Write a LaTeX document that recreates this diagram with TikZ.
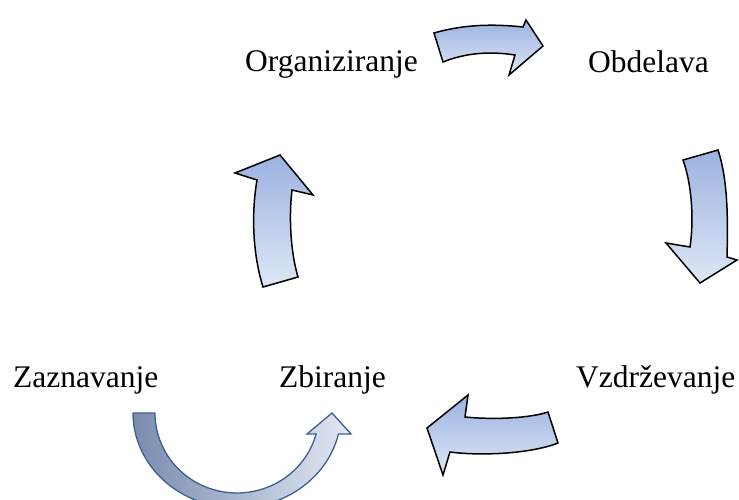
\documentclass[tikz,border=0pt]{standalone}
\usepackage{fontspec}
\setmainfont{Liberation Serif}
\definecolor{arrowtop}{HTML}{9BB2E0}
\definecolor{arrowbottom}{HTML}{DEE7F6}
\definecolor{udark}{HTML}{7A8BAE}
\definecolor{ulight}{HTML}{E2E9F6}
\definecolor{uedge}{HTML}{3F5F8E}
\begin{document}
\begin{tikzpicture}[x=1pt,y=-1pt,
  label/.style={anchor=base west,inner sep=0pt,font=\fontsize{31.5}{36}\selectfont},
  blockarrow/.style={draw=black,line width=1.5pt,line join=miter,
    top color=arrowtop,bottom color=arrowbottom},
  uarrow/.style={draw=uedge,line width=1.3pt,line join=miter,
    left color=udark,right color=ulight}]
\useasboundingbox (0,0) rectangle (739,499);

% labels of the cycle
\node[label] (org) at (245,71) {Organiziranje};
\node[label] (obd) at (588,72) {Obdelava};
\node[label] (zaz) at (13,387) {Zaznavanje};
\node[label] (zbi) at (279,387) {Zbiranje};
\node[label] (vzd) at (576,387) {Vzdrževanje};

% curved block arrow: Organiziranje -> Obdelava
\path[blockarrow] (434,33) .. controls (465,24) and (495,24) .. (523,27)
  -- (526,20) -- (543,46) -- (509,75) -- (515,55)
  .. controls (490,51) and (465,53) .. (443,62) -- cycle;

% curved block arrow: Obdelava -> Vzdrzevanje
\path[blockarrow] (683,160) -- (718,150)
  .. controls (728,180) and (728,220) .. (727,257)
  -- (737,260) -- (700,283) -- (666,243) -- (690,247)
  .. controls (694,220) and (692,185) .. (683,160) -- cycle;

% curved block arrow: Vzdrzevanje -> Zbiranje
\path[blockarrow] (548,412) .. controls (530,418) and (495,420) .. (465,417)
  -- (468,395) -- (427,428) -- (443,475) -- (450,452)
  .. controls (480,456) and (530,454) .. (558,443) -- cycle;

% curved block arrow: Zbiranje -> Organiziranje
\path[blockarrow] (263,287) -- (298,277)
  .. controls (290,250) and (289,215) .. (292,190)
  -- (313,195) -- (280,155) -- (235,173) -- (257,180)
  .. controls (251,215) and (253,255) .. (263,287) -- cycle;

% U-shaped arrow: Zaznavanje -> Zbiranje
\path[uarrow]
  plot[domain=180:12.8,samples=60] ({237+104*cos(\x)},{413+95*sin(\x)})
  -- (351,434) -- (332,413) -- (307,434)
  -- plot[domain=15.2:180,samples=60] ({237+82*cos(\x)},{413+80*sin(\x)})
  -- cycle;
\end{tikzpicture}
\end{document}
